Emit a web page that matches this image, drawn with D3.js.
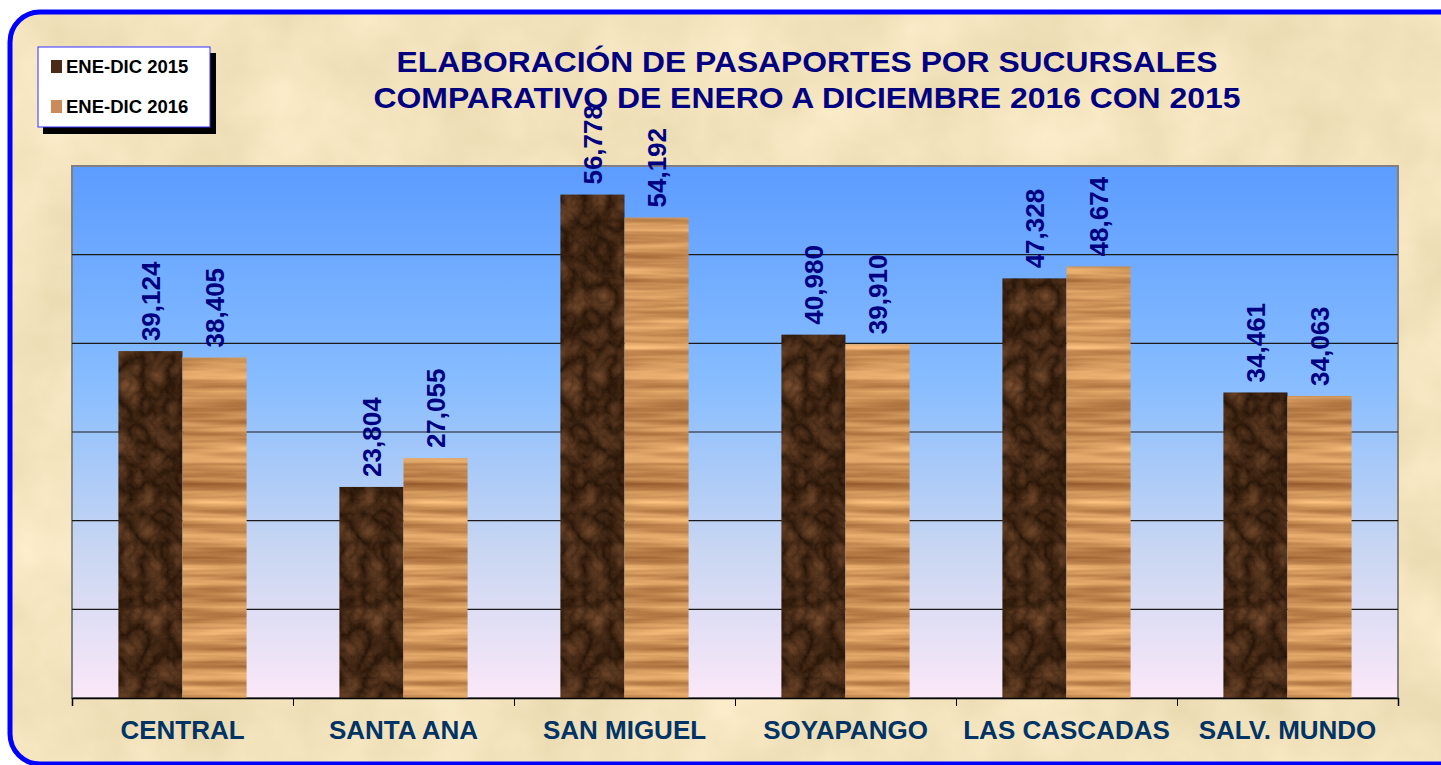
<!DOCTYPE html>
<html>
<head>
<meta charset="utf-8">
<script src="https://cdn.jsdelivr.net/npm/d3@7"></script>
<style>
  html, body { margin: 0; padding: 0; background: #fff; overflow: hidden; }
  svg { display: block; font-family: Arial, 'Liberation Sans', sans-serif; }
</style>
</head>
<body>
<div id="chart"></div>
<script>
const categories = ['CENTRAL', 'SANTA ANA', 'SAN MIGUEL', 'SOYAPANGO', 'LAS CASCADAS', 'SALV. MUNDO']
const series = ['ENE-DIC 2015', 'ENE-DIC 2016']
const values2015 = [39124, 23804, 56778, 40980, 47328, 34461]
const values2016 = [38405, 27055, 54192, 39910, 48674, 34063]
const gridValues = [10000, 20000, 30000, 40000, 50000]
const titleLines = ['ELABORACIÓN DE PASAPORTES POR SUCURSALES', 'COMPARATIVO DE ENERO A DICIEMBRE 2016 CON 2015']

const width = 1441
const height = 765
const plot = { left: 72, right: 1398, top: 166, bottom: 698 }
const colors = {
  frame: '#0000ff',
  title: '#000080',
  value: '#000080',
  category: '#003366',
  grid: '#1a1a1a',
  plotBorder: '#808080'
}

const svg = d3.select('#chart').append('svg')
  .attr('width', width)
  .attr('height', height)

const defs = svg.append('defs')

// textures, all built from noise filters
function textureFilter (id, type, freq, octaves, seed, matrix) {
  const f = defs.append('filter').attr('id', id)
    .attr('x', 0).attr('y', 0).attr('width', 1).attr('height', 1)
    .attr('color-interpolation-filters', 'sRGB')
  f.append('feTurbulence').attr('type', type)
    .attr('baseFrequency', freq).attr('numOctaves', octaves).attr('seed', seed).attr('result', 'noise')
  f.append('feColorMatrix').attr('in', 'noise').attr('type', 'matrix')
    .attr('values', matrix).attr('result', 'col')
  f.append('feComposite').attr('in', 'col').attr('in2', 'SourceGraphic').attr('operator', 'in')
}

textureFilter('parchment', 'fractalNoise', '0.012', 4, 3,
  '0.1 0 0 0 0.9  0.1 0 0 0 0.84  0.14 0 0 0 0.67  0 0 0 0 1')
textureFilter('marble', 'turbulence', '0.04 0.035', 4, 7,
  '0.4 0 0 0 0.14  0.28 0 0 0 0.07  0.2 0 0 0 0.02  0 0 0 0 1')
textureFilter('wood', 'fractalNoise', '0.006 0.11', 3, 11,
  '0.5 0 0 0 0.56  0.5 0 0 0 0.33  0.4 0 0 0 0.15  0 0 0 0 1')

const grad = defs.append('linearGradient').attr('id', 'plotBg')
  .attr('x1', 0).attr('y1', 0).attr('x2', 0).attr('y2', 1)
grad.append('stop').attr('offset', '0%').attr('stop-color', '#5c9cff')
grad.append('stop').attr('offset', '40%').attr('stop-color', '#86bcff')
grad.append('stop').attr('offset', '72%').attr('stop-color', '#c8d6f2')
grad.append('stop').attr('offset', '100%').attr('stop-color', '#fbe8f8')

// frame
const frame = { x: 10, y: 12, w: 1460, h: 752, r: 30 }
svg.append('rect')
  .attr('x', frame.x).attr('y', frame.y).attr('width', frame.w).attr('height', frame.h)
  .attr('rx', frame.r)
  .attr('fill', '#eedfbf')
  .attr('filter', 'url(#parchment)')
svg.append('rect')
  .attr('x', frame.x).attr('y', frame.y).attr('width', frame.w).attr('height', frame.h)
  .attr('rx', frame.r)
  .attr('fill', 'none')
  .attr('stroke', colors.frame)
  .attr('stroke-width', 5)

// scales
const x0 = d3.scaleBand()
  .domain(categories)
  .range([plot.left, plot.right])
  .paddingInner(0.42)
  .paddingOuter(0.21)
const x1 = d3.scaleBand()
  .domain(series)
  .range([0, x0.bandwidth()])
const y = d3.scaleLinear()
  .domain([0, 60000])
  .range([plot.bottom, plot.top])
const edge = d3.scaleLinear()
  .domain([0, categories.length])
  .range([plot.left, plot.right])

// plot area
svg.append('rect')
  .attr('x', plot.left).attr('y', plot.top)
  .attr('width', plot.right - plot.left).attr('height', plot.bottom - plot.top)
  .attr('fill', 'url(#plotBg)')
  .attr('stroke', colors.plotBorder)
  .attr('stroke-width', 2)

svg.append('g')
  .selectAll('line')
  .data(gridValues)
  .join('line')
  .attr('x1', plot.left).attr('x2', plot.right)
  .attr('y1', d => y(d)).attr('y2', d => y(d))
  .attr('stroke', colors.grid)
  .attr('stroke-width', 1.2)

// bars
const rows = categories.map((c, i) => ({ category: c, values: [values2015[i], values2016[i]] }))
const groups = svg.append('g')
  .selectAll('g')
  .data(rows)
  .join('g')
  .attr('transform', d => `translate(${x0(d.category)},0)`)

const barData = d => series.map((s, i) => ({ series: s, value: d.values[i], idx: i }))

groups.selectAll('rect')
  .data(barData)
  .join('rect')
  .attr('x', d => x1(d.series))
  .attr('y', d => y(d.value))
  .attr('width', x1.bandwidth())
  .attr('height', d => y(0) - y(d.value))
  .attr('fill', '#000')
  .attr('filter', d => d.idx === 0 ? 'url(#marble)' : 'url(#wood)')

// x axis
const axisG = svg.append('g')
  .attr('transform', `translate(0,${plot.bottom})`)
  .call(d3.axisBottom(edge).ticks(categories.length).tickSize(8).tickFormat(''))
axisG.select('.domain').attr('stroke', '#000').attr('stroke-width', 1.5)
axisG.selectAll('.tick line').attr('stroke', '#000').attr('stroke-width', 1)

const labelAxis = svg.append('g')
  .attr('transform', `translate(0,${plot.bottom})`)
  .call(d3.axisBottom(x0).tickSize(0).tickPadding(41))
labelAxis.select('.domain').remove()
labelAxis.selectAll('text')
  .attr('fill', colors.category)
  .attr('font-size', 26)
  .attr('font-weight', 'bold')
  .attr('font-family', 'Arial, "Liberation Sans", sans-serif')
  .attr('dy', 0)

// value labels
const fmt = d3.format(',')
groups.selectAll('text.value')
  .data(barData)
  .join('text')
  .attr('class', 'value')
  .attr('transform', d => `translate(${x1(d.series) + x1.bandwidth() / 2},${y(d.value) - 10}) rotate(-90)`)
  .attr('dy', '0.36em')
  .attr('fill', colors.value)
  .attr('font-size', 26)
  .attr('font-weight', 'bold')
  .text(d => fmt(d.value))

// title
svg.append('g')
  .selectAll('text')
  .data(titleLines)
  .join('text')
  .attr('x', 807)
  .attr('y', (d, i) => 72 + i * 36)
  .attr('text-anchor', 'middle')
  .attr('fill', colors.title)
  .attr('font-size', 30)
  .attr('font-weight', 'bold')
  .attr('textLength', (d, i) => i === 0 ? 821 : 867)
  .attr('lengthAdjust', 'spacingAndGlyphs')
  .text(d => d)

// legend
const legend = svg.append('g').attr('transform', 'translate(38,47)')
legend.append('rect')
  .attr('x', 5).attr('y', 6).attr('width', 173).attr('height', 81)
  .attr('fill', '#000')
legend.append('rect')
  .attr('x', 0).attr('y', 0).attr('width', 172).attr('height', 80)
  .attr('fill', '#fff')
  .attr('stroke', '#3030ff')
  .attr('stroke-width', 1)
const legendItems = legend.selectAll('g.item')
  .data(series)
  .join('g')
  .attr('class', 'item')
  .attr('transform', (d, i) => `translate(13,${13 + i * 40})`)
legendItems.append('rect')
  .attr('width', 11).attr('height', 13)
  .attr('fill', (d, i) => i === 0 ? '#4a2a18' : '#cc8a5a')
legendItems.append('text')
  .attr('x', 15).attr('y', 13)
  .attr('font-size', 18.5)
  .attr('font-weight', 'bold')
  .attr('fill', '#000')
  .text(d => d)
</script>
</body>
</html>
